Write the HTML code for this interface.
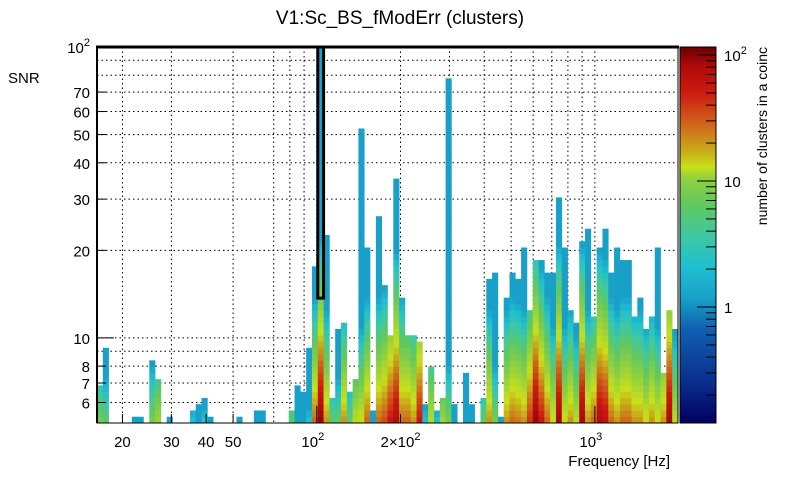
<!DOCTYPE html>
<html><head><meta charset="utf-8"><style>
body{margin:0;background:#fff;font-family:"Liberation Sans",sans-serif}
svg text{font-family:"Liberation Sans",sans-serif}
</style></head><body>
<svg id="chart" width="805" height="472" xmlns="http://www.w3.org/2000/svg">
<defs>
<linearGradient id="cbar" x1="0" y1="1" x2="0" y2="0">
<stop offset="0" stop-color="#000060"/><stop offset="0.1" stop-color="#0a2a8a"/><stop offset="0.25" stop-color="#1060b0"/>
<stop offset="0.33" stop-color="#18a0c8"/><stop offset="0.42" stop-color="#20c0d0"/><stop offset="0.5" stop-color="#40c8a0"/>
<stop offset="0.58" stop-color="#60c860"/><stop offset="0.65" stop-color="#90d040"/><stop offset="0.68" stop-color="#c8e01a"/>
<stop offset="0.72" stop-color="#c8b018"/><stop offset="0.8" stop-color="#d0601a"/><stop offset="0.88" stop-color="#cc1a10"/>
<stop offset="0.95" stop-color="#b00a0a"/><stop offset="1" stop-color="#6a0000"/>
</linearGradient>
</defs>
<text x="400" y="24" font-size="19" text-anchor="middle">V1:Sc_BS_fModErr (clusters)</text>
<text x="8" y="83" font-size="15">SNR</text>
<text x="670" y="466" font-size="15" text-anchor="end">Frequency [Hz]</text>
<text transform="translate(767,47) rotate(-90)" font-size="14" text-anchor="end">number of clusters in a coinc</text>
<g id="grid"></g>
<g id="cells"></g>
<g id="axes"></g>
<rect x="680" y="47" width="36" height="376" fill="url(#cbar)" stroke="#000" stroke-width="1"/>
<g id="cbticks"></g>
</svg>
<script>
// x bins: 100 log bins from xMin to xMax; column index -> data
const colIndex = [0,1,6,7,9,10,12,16,17,18,19,24,27,28,33,34,35,36,37,38,39,40,41,42,43,44,45,46,47,48,49,50,51,52,53,54,55,56,57,58,59,60,61,63,64,66,67,68,69,70,71,72,73,74,75,76,77,78,79,80,81,82,83,84,85,86,87,88,89,90,91,92,93,94,95,96,97,98,99];
const colTopSNR = [6.8,9.2,5.3,5.3,8.3,7.2,5.3,5.6,5.9,6.2,5.3,5.3,5.6,5.6,5.5,6.8,6.5,9.2,16.9,100,22,6.2,10.6,11,6.5,7.2,52,20.4,5.5,26,15,10.2,35,13.7,10.2,10.2,9.7,5.9,7.9,5.5,6.2,78,5.9,7.5,5.9,6.2,15.8,16.7,5.3,13.7,16.7,15.8,20.4,12.4,18.4,18.4,16.7,16.7,30.3,20.4,12.4,11.2,21.4,23.7,11.8,20.4,23.7,16.7,20.4,18.4,18.4,11.8,13.7,10.6,11.8,20.4,7.5,12.4,10.6];
const colPeakCount = [4,3,1,1,4,6,1,1.5,1,1.5,1,1,1,1,3,1,1,1.5,20,80,15,3,3,15,3,8,10,20,1,20,25,40,60,20,20,15,40,1.5,8,1.5,6,4,1,1,1,3,15,4,1,15,20,18,15,30,80,40,20,10,70,10,15,8,70,15,20,60,50,20,15,20,20,15,15,10,15,10,15,70,8];
const yTickVals = [6,7,8,10,20,30,40,50,60,70];
const yTickLabels = ["6","7","8","10","20","30","40","50","60","70"];
const xTickVals = [20,30,40,50,200];
const xTickLabels = ["20","30","40","50","2\u00d710"];

const NS="http://www.w3.org/2000/svg";
const X0=97,X1=678,Y0=47,Y1=423;
const xMin=Math.log10(16.2),xMax=Math.log10(1991);
const yMin=Math.log10(5.1),yMax=2;
const NX=100,NY=60;
function xs(v){return X0+(Math.log10(v)-xMin)/(xMax-xMin)*(X1-X0);}
function ys(v){return Y1-(Math.log10(v)-yMin)/(yMax-yMin)*(Y1-Y0);}
function mk(t,a,p){const e=document.createElementNS(NS,t);for(const k in a)e.setAttribute(k,a[k]);p.appendChild(e);return e;}
const stops=[[0.12,[0,0,96]],[0.2,[10,42,138]],[0.5,[16,96,176]],[1,[24,160,200]],[1.4,[32,192,208]],[2,[64,200,160]],[3,[96,200,96]],[5,[144,208,64]],[9,[200,224,26]],[12,[200,176,24]],[20,[208,96,26]],[35,[204,26,16]],[60,[176,10,10]],[116,[106,0,0]]];
function cmap(c){c=Math.max(0.12,Math.min(116,c));for(let i=1;i<stops.length;i++){if(c<=stops[i][0]){const a=stops[i-1],b=stops[i];const t=(Math.log(c)-Math.log(a[0]))/(Math.log(b[0])-Math.log(a[0]));const r=a[1].map((v,k)=>Math.round(v+(b[1][k]-v)*t));return `rgb(${r})`;}}return "rgb(106,0,0)";}

const grid=document.getElementById('grid');
[20,30,50,70,80,90,100,200,300,400,500,600,700,800,900,1000].forEach(v=>{
  const l=mk('line',{x1:xs(v),x2:xs(v),y1:Y0,y2:Y1,stroke:'#000','stroke-dasharray':'1.5 3','stroke-width':1},grid);
  
  
});
[6,7,8,9,10,20,30,40,50,60,70,80,90].forEach(v=>{
  const l=mk('line',{x1:X0,x2:X1,y1:ys(v),y2:ys(v),stroke:'#000','stroke-dasharray':'1.5 3','stroke-width':1},grid);
  
  
});

const cells=document.getElementById('cells');
const bw=(X1-X0)/NX, bh=(Y1-Y0)/NY;
colIndex.forEach((ci,i)=>{
  const top=colTopSNR[i],peak=colPeakCount[i];
  const topRow=Math.min(NY-1,Math.floor((Math.log10(top)-yMin)/(yMax-yMin)*NY-1e-6));
  for(let r=0;r<=topRow;r++){
    const snr=Math.pow(10,yMin+(r+0.5)*(yMax-yMin)/NY);
    const c=Math.max(1,peak*Math.pow(snr/5.1,-3));
    const e=mk('rect',{x:X0+ci*bw,y:Y1-(r+1)*bh,width:bw+0.3,height:bh+0.3,fill:cmap(c)},cells);
    
    
  }
});
// highlighted bin outline
const hi=colIndex.indexOf(38);
const hx=X0+38*bw;
const hl=mk('rect',{x:hx,y:Y0,width:bw,height:ys(13.7)-Y0,fill:'none',stroke:'#000','stroke-width':3},cells);



const ax=document.getElementById('axes');
mk('rect',{x:X0,y:Y0,width:X1-X0,height:Y1-Y0,fill:'none',stroke:'#000','stroke-width':1},ax);
mk('line',{x1:X0-1,x2:X1+1,y1:Y0,y2:Y0,stroke:'#000','stroke-width':3},ax);
mk('line',{x1:X0,x2:X0,y1:Y0,y2:Y1,stroke:'#000','stroke-width':2},ax);
yTickVals.forEach((v,i)=>{
  mk('line',{x1:X0,x2:X0+(v===10?17:9),y1:ys(v),y2:ys(v),stroke:'#000'},ax);
  const t=mk('text',{x:X0-7,y:ys(v)+6,'font-size':15,'text-anchor':'end'},ax);t.textContent=yTickLabels[i];
  
  
});
let t=mk('text',{x:X0-7,y:Y0+6,'font-size':15,'text-anchor':'end'},ax);t.innerHTML='10<tspan dy="-7" font-size="11">2</tspan>';


xTickVals.forEach((v,i)=>{
  mk('line',{x1:xs(v),x2:xs(v),y1:Y1,y2:Y1-9,stroke:'#000'},ax);
  const t=mk('text',{x:xs(v),y:447,'font-size':15,'text-anchor':'middle'},ax);
  t.innerHTML=xTickLabels[i]+(v===200?'<tspan dy="-7" font-size="11">2</tspan>':'');
  
  
});
[100,1000].forEach(v=>{
  mk('line',{x1:xs(v),x2:xs(v),y1:Y1,y2:Y1-17,stroke:'#000'},ax);
  const t=mk('text',{x:xs(v)-4,y:447,'font-size':15,'text-anchor':'middle'},ax);
  t.innerHTML='10<tspan dy="-7" font-size="11">'+(v===100?2:3)+'</tspan>';
  
  
});
const cb=document.getElementById('cbticks');
function cy(v){return 307-Math.log10(v)*126;}
[0.2,0.3,0.4,0.5,0.6,0.7,0.8,0.9,1,2,3,4,5,6,7,8,9,10,20,30,40,50,60,70,80,90,100].forEach(v=>{
  const major=(v===1||v===10||v===100);
  mk('line',{x1:716-(major?19:10),x2:716,y1:cy(v),y2:cy(v),stroke:'#000'},cb);
});
[["1",1],["10",10]].forEach(a=>{const t=mk('text',{x:724,y:cy(a[1])+6,'font-size':15},cb);t.textContent=a[0];
  
  });
t=mk('text',{x:724,y:cy(100)+6,'font-size':15},cb);t.innerHTML='10<tspan dy="-7" font-size="11">2</tspan>';


</script>
</body></html>
